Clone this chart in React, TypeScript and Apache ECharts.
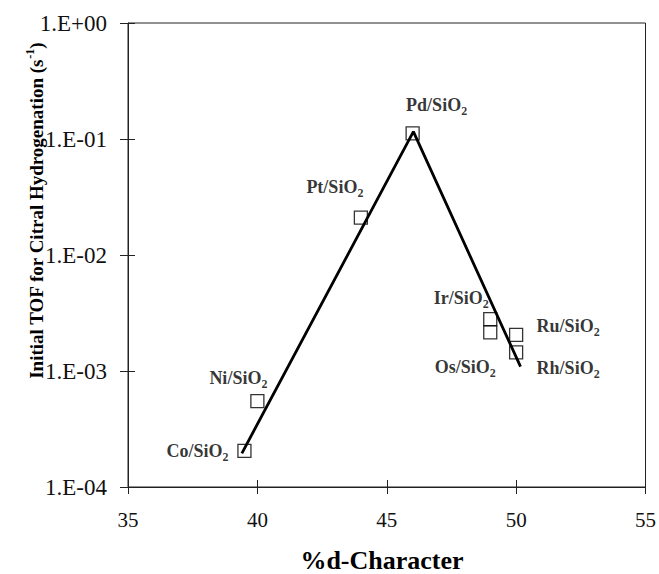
import React, { useEffect, useRef } from "react";
import * as echarts from "echarts";

// ---- data ----
const catalysts = ["Co/SiO2", "Ni/SiO2", "Pt/SiO2", "Pd/SiO2", "Ir/SiO2", "Os/SiO2", "Ru/SiO2", "Rh/SiO2"];
const dCharacter = [39.5, 40, 44, 46, 49, 49, 50, 50];
const initialTOF = [2.05e-4, 5.5e-4, 2.1e-2, 1.12e-1, 2.8e-3, 2.15e-3, 2.05e-3, 1.45e-3];

// volcano trend line vertices
const trendX = [39.4, 46.03, 50.17];
const trendY = [1.95e-4, 0.1156, 1.09e-3];

const xTicks = [35, 40, 45, 50, 55];
const yTickLabels = ["1.E-04", "1.E-03", "1.E-02", "1.E-01", "1.E+00"];

const xTitle = "%d-Character";
const yTitleMain = "Initial TOF for Citral Hydrogenation (s";
const yTitleSup = "-1";

// label placement (pixels, relative to marker centre) – styling only
const labelOffsets: [number, number][] = [
  [-47, 0],
  [-19, -23],
  [-26, -31],
  [24, -28],
  [-29, -21],
  [-25, 35],
  [52, -9],
  [52, 16],
];

const SERIF = "'Liberation Serif', 'Times New Roman', serif";
const AX = "#222";

export default function App() {
  const ref = useRef<HTMLDivElement>(null);

  useEffect(() => {
    if (!ref.current) return;
    const chart = echarts.init(ref.current, undefined, { renderer: "svg" });

    const xMin = xTicks[0];
    const xMax = xTicks[xTicks.length - 1];
    const xInt = xTicks[1] - xTicks[0];

    const yLabel = (v: number) => {
      const idx = Math.round(Math.log10(v)) + (yTickLabels.length - 1);
      return yTickLabels[idx] ?? "";
    };

    const labelRich = {
      n: { fontFamily: SERIF, fontWeight: "bold", fontSize: 18, lineHeight: 24, color: "#000" },
      s: { fontFamily: SERIF, fontWeight: "bold", fontSize: 12, lineHeight: 24, verticalAlign: "bottom", color: "#000" },
    };

    const option: any = {
      animation: false,
      grid: {
        left: 128,
        top: 23,
        width: 519,
        height: 464,
        show: true,
        borderColor: AX,
        borderWidth: 1,
        backgroundColor: "transparent",
      },
      xAxis: [
        {
          type: "value",
          min: xMin,
          max: xMax,
          interval: xInt,
          axisLine: { lineStyle: { color: AX, width: 1 } },
          axisTick: { length: 7, lineStyle: { color: AX, width: 1 } },
          axisLabel: { margin: 22, fontFamily: SERIF, fontSize: 21, color: "#111" },
          splitLine: { show: false },
        },
        {
          type: "value",
          min: xMin,
          max: xMax,
          interval: xInt,
          position: "bottom",
          axisLine: { show: false },
          axisTick: { inside: true, length: 7, lineStyle: { color: AX, width: 1 } },
          axisLabel: { show: false },
          splitLine: { show: false },
        },
      ],
      yAxis: [
        {
          type: "log",
          logBase: 10,
          min: 1e-4,
          max: 1,
          axisLine: { show: true, lineStyle: { color: AX, width: 1 } },
          axisTick: { show: true, length: 8, lineStyle: { color: AX, width: 1 } },
          axisLabel: { margin: 21, fontFamily: SERIF, fontSize: 23, color: "#111", formatter: yLabel },
          splitLine: { show: false },
          minorTick: { show: false },
        },
        {
          type: "log",
          logBase: 10,
          min: 1e-4,
          max: 1,
          position: "left",
          axisLine: { show: false },
          axisTick: { show: true, inside: true, length: 7, lineStyle: { color: AX, width: 1 } },
          axisLabel: { show: false },
          splitLine: { show: false },
        },
      ],
      series: [
        {
          type: "line",
          xAxisIndex: 0,
          yAxisIndex: 0,
          data: trendX.map((x, i) => [x, trendY[i]]),
          symbol: "none",
          lineStyle: { color: "#000", width: 2.8 },
          silent: true,
          z: 2,
        },
        {
          type: "scatter",
          xAxisIndex: 0,
          yAxisIndex: 0,
          data: catalysts.map((name, i) => ({
            name,
            value: [dCharacter[i], initialTOF[i]],
            label: { offset: labelOffsets[i] },
          })),
          symbol: "rect",
          symbolSize: 13,
          itemStyle: { color: "rgba(0,0,0,0)", borderColor: "#000", borderWidth: 1.3 },
          label: {
            show: true,
            position: "inside",
            formatter: (p: any) => {
              const nm: string = catalysts[p.dataIndex];
              return `{n|${nm.slice(0, -1)}}{s|${nm.slice(-1)}}`;
            },
            rich: labelRich,
          },
          emphasis: { disabled: true },
          silent: true,
          z: 3,
        },
      ],
      graphic: [
        {
          type: "text",
          x: 36,
          y: 211,
          rotation: Math.PI / 2,
          style: {
            text: `{t|${yTitleMain}}{p|${yTitleSup}}{t|)}`,
            align: "center",
            verticalAlign: "middle",
            rich: {
              t: { fontFamily: SERIF, fontWeight: "bold", fontSize: 19, lineHeight: 24, fill: "#000" },
              p: { fontFamily: SERIF, fontWeight: "bold", fontSize: 12, lineHeight: 24, verticalAlign: "top", fill: "#000" },
            },
          },
        },
        {
          type: "text",
          x: 382,
          y: 560,
          style: {
            text: xTitle,
            fontFamily: SERIF,
            fontWeight: "bold",
            fontSize: 26,
            fill: "#000",
            align: "center",
            verticalAlign: "middle",
          },
        },
      ],
    };

    chart.setOption(option);
    return () => chart.dispose();
  }, []);

  return (
    <div
      ref={ref}
      style={{ position: "absolute", left: 0, top: 0, width: 659, height: 574, background: "#fff" }}
    />
  );
}
